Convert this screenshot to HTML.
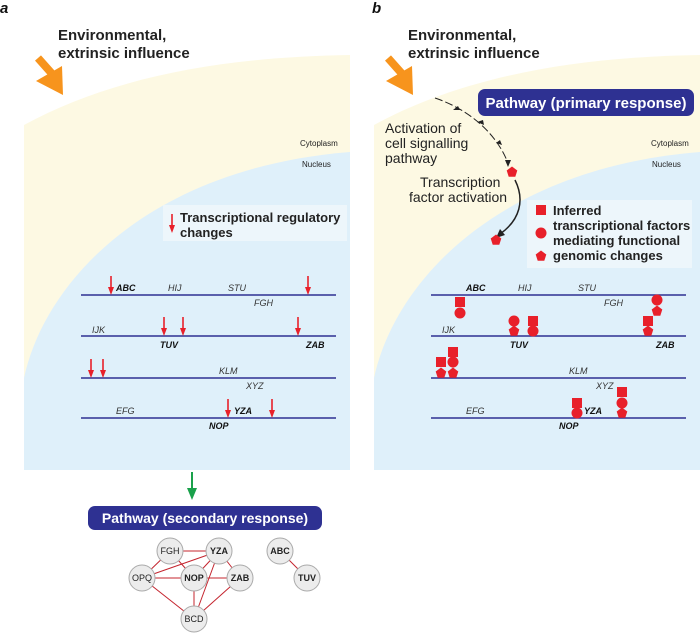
<!DOCTYPE html>
<html><head><meta charset="utf-8"><style>
body{margin:0;background:#fff}
svg{display:block}
text{font-family:"Liberation Sans",sans-serif}
.t{font-size:9px;font-style:italic;fill:#333}
.b{font-weight:bold;fill:#111}
.n{font-size:9px;fill:#222;text-anchor:middle}
</style></head><body>
<svg width="700" height="633" viewBox="0 0 700 633" xmlns="http://www.w3.org/2000/svg">
<defs>
<g id="pent"><polygon points="0,-5.5 5.3,-1.5 3.3,4.8 -3.3,4.8 -5.3,-1.5" fill="#e8202a"/></g>
<g id="arr"><line x1="0" y1="0" x2="0" y2="13" stroke="#e8202a" stroke-width="1.6"/><polygon points="-3,11 3,11 0,19" fill="#e8202a"/></g>
</defs>
<text x="0" y="13" font-size="15" font-weight="bold" font-style="italic" fill="#111">a</text>
<text x="372" y="13" font-size="15" font-weight="bold" font-style="italic" fill="#111">b</text>

<path d="M24,470 L24,125 C110,78 220,57 350,55 L350,470 Z" fill="#fdf9e3"/>
<path d="M24,470 L24,378 C45,280 150,168 350,152 L350,470 Z" fill="#dff0fa"/>
<path d="M374,470 L374,125 C460,78 570,57 700,55 L700,470 Z" fill="#fdf9e3"/>
<path d="M374,470 L374,378 C395,280 500,168 700,152 L700,470 Z" fill="#dff0fa"/>

<g fill="#f7941d">
<line x1="38" y1="58" x2="54" y2="76" stroke="#f7941d" stroke-width="8"/>
<polygon points="36,81 62,66 63,95"/>
<line x1="388" y1="58" x2="404" y2="76" stroke="#f7941d" stroke-width="8"/>
<polygon points="386,81 412,66 413,95"/>
</g>
<g font-size="15" font-weight="bold" fill="#222">
<text x="58" y="40">Environmental,</text><text x="58" y="58">extrinsic influence</text>
<text x="408" y="40">Environmental,</text><text x="408" y="58">extrinsic influence</text>
</g>
<g font-size="8" fill="#222">
<text x="300" y="146">Cytoplasm</text><text x="302" y="167">Nucleus</text>
<text x="651" y="146">Cytoplasm</text><text x="652" y="167">Nucleus</text>
</g>

<rect x="163" y="205" width="184" height="36" fill="#eef6fb" opacity="0.9"/>
<use href="#arr" x="172" y="214"/>
<text x="180" y="222" font-size="13" font-weight="bold" fill="#222">Transcriptional regulatory</text>
<text x="180" y="237" font-size="13" font-weight="bold" fill="#222">changes</text>

<g stroke="#2e3192" stroke-width="1.6">
<line x1="81" y1="295" x2="336" y2="295"/><line x1="81" y1="336" x2="336" y2="336"/>
<line x1="81" y1="378" x2="336" y2="378"/><line x1="81" y1="418" x2="336" y2="418"/>
<line x1="431" y1="295" x2="686" y2="295"/><line x1="431" y1="336" x2="686" y2="336"/>
<line x1="431" y1="378" x2="686" y2="378"/><line x1="431" y1="418" x2="686" y2="418"/>
</g>
<g>
<text class="t b" x="116" y="291">ABC</text><text class="t" x="168" y="291">HIJ</text><text class="t" x="228" y="291">STU</text>
<text class="t" x="254" y="306">FGH</text><text class="t" x="92" y="333">IJK</text>
<text class="t b" x="160" y="348">TUV</text><text class="t b" x="306" y="348">ZAB</text>
<text class="t" x="219" y="374">KLM</text><text class="t" x="246" y="389">XYZ</text>
<text class="t" x="116" y="414">EFG</text><text class="t b" x="234" y="414">YZA</text><text class="t b" x="209" y="429">NOP</text>
</g>
<g transform="translate(350,0)">
<text class="t b" x="116" y="291">ABC</text><text class="t" x="168" y="291">HIJ</text><text class="t" x="228" y="291">STU</text>
<text class="t" x="254" y="306">FGH</text><text class="t" x="92" y="333">IJK</text>
<text class="t b" x="160" y="348">TUV</text><text class="t b" x="306" y="348">ZAB</text>
<text class="t" x="219" y="374">KLM</text><text class="t" x="246" y="389">XYZ</text>
<text class="t" x="116" y="414">EFG</text><text class="t b" x="234" y="414">YZA</text><text class="t b" x="209" y="429">NOP</text>
</g>
<use href="#arr" x="111" y="276"/><use href="#arr" x="308" y="276"/>
<use href="#arr" x="164" y="317"/><use href="#arr" x="183" y="317"/><use href="#arr" x="298" y="317"/>
<use href="#arr" x="91" y="359"/><use href="#arr" x="103" y="359"/>
<use href="#arr" x="228" y="399"/><use href="#arr" x="272" y="399"/>

<line x1="192" y1="472" x2="192" y2="490" stroke="#1aa14b" stroke-width="2"/>
<polygon points="187,488 197,488 192,500" fill="#1aa14b"/>

<rect x="88" y="506" width="234" height="24" rx="7" fill="#2e3192"/>
<text x="205" y="523" font-size="14" font-weight="bold" fill="#fff" text-anchor="middle">Pathway (secondary response)</text>
<g stroke="#c4242e" stroke-width="1">
<line x1="170" y1="551" x2="219" y2="551"/><line x1="170" y1="551" x2="142" y2="578"/><line x1="170" y1="551" x2="194" y2="578"/>
<line x1="219" y1="551" x2="142" y2="578"/><line x1="219" y1="551" x2="194" y2="578"/><line x1="219" y1="551" x2="240" y2="578"/><line x1="219" y1="551" x2="194" y2="619"/>
<line x1="142" y1="578" x2="240" y2="578"/><line x1="142" y1="578" x2="194" y2="619"/>
<line x1="194" y1="578" x2="194" y2="619"/><line x1="240" y1="578" x2="194" y2="619"/>
<line x1="280" y1="551" x2="307" y2="578"/>
</g>
<g fill="#ececec" stroke="#aaa" stroke-width="1">
<circle cx="170" cy="551" r="13"/><circle cx="219" cy="551" r="13"/><circle cx="142" cy="578" r="13"/>
<circle cx="194" cy="578" r="13"/><circle cx="240" cy="578" r="13"/><circle cx="194" cy="619" r="13"/>
<circle cx="280" cy="551" r="13"/><circle cx="307" cy="578" r="13"/>
</g>
<text class="n" x="170" y="554">FGH</text><text class="n" x="219" y="554" font-weight="bold">YZA</text>
<text class="n" x="142" y="581">OPQ</text><text class="n" x="194" y="581" font-weight="bold">NOP</text>
<text class="n" x="240" y="581" font-weight="bold">ZAB</text><text class="n" x="194" y="622">BCD</text>
<text class="n" x="280" y="554" font-weight="bold">ABC</text><text class="n" x="307" y="581" font-weight="bold">TUV</text>

<rect x="478" y="89" width="216" height="27" rx="7" fill="#2e3192"/>
<text x="586" y="108" font-size="15" font-weight="bold" fill="#fff" text-anchor="middle">Pathway (primary response)</text>
<g font-size="14" fill="#222">
<text x="385" y="133">Activation of</text><text x="385" y="148">cell signalling</text><text x="385" y="163">pathway</text>
<text x="420" y="187">Transcription</text><text x="409" y="202">factor activation</text>
</g>
<path d="M435,98 C465,108 495,130 508,163" fill="none" stroke="#222" stroke-width="1" stroke-dasharray="8,3"/>
<polygon points="458,106 453,110 460,110" fill="#222"/>
<polygon points="483,120 477,122 484,125" fill="#222"/>
<polygon points="500,140 496,143 502,145" fill="#222"/>
<polygon points="505,160 511,160 508,167" fill="#222"/>
<use href="#pent" x="512" y="172"/>
<path d="M515,180 C525,200 520,220 500,234" fill="none" stroke="#222" stroke-width="1.5"/>
<polygon points="496,238 500,229 505,235" fill="#222"/>
<use href="#pent" x="496" y="240"/>

<rect x="527" y="200" width="165" height="68" fill="#eef6fb" opacity="0.9"/>
<rect x="536" y="205" width="10" height="10" fill="#e8202a"/>
<circle cx="541" cy="233" r="5.5" fill="#e8202a"/>
<use href="#pent" x="541" y="256"/>
<g font-size="13" font-weight="bold" fill="#222">
<text x="553" y="215">Inferred</text><text x="553" y="230">transcriptional factors</text>
<text x="553" y="245">mediating functional</text><text x="553" y="260">genomic changes</text>
</g>

<g fill="#e8202a">
<rect x="455" y="297" width="10" height="10"/><circle cx="460" cy="313" r="5.5"/>
<circle cx="514" cy="321" r="5.5"/><rect x="528" y="316" width="10" height="10"/><circle cx="533" cy="331" r="5.5"/>
<circle cx="657" cy="300" r="5.5"/><rect x="643" y="316" width="10" height="10"/>
<rect x="436" y="357" width="10" height="10"/><rect x="448" y="347" width="10" height="10"/><circle cx="453" cy="362" r="5.5"/>
<rect x="572" y="398" width="10" height="10"/><circle cx="577" cy="413" r="5.5"/>
<rect x="617" y="387" width="10" height="10"/><circle cx="622" cy="403" r="5.5"/>
</g>
<use href="#pent" x="514" y="331"/><use href="#pent" x="657" y="311"/><use href="#pent" x="648" y="331"/>
<use href="#pent" x="441" y="373"/><use href="#pent" x="453" y="373"/><use href="#pent" x="622" y="413"/>
</svg>
</body></html>
